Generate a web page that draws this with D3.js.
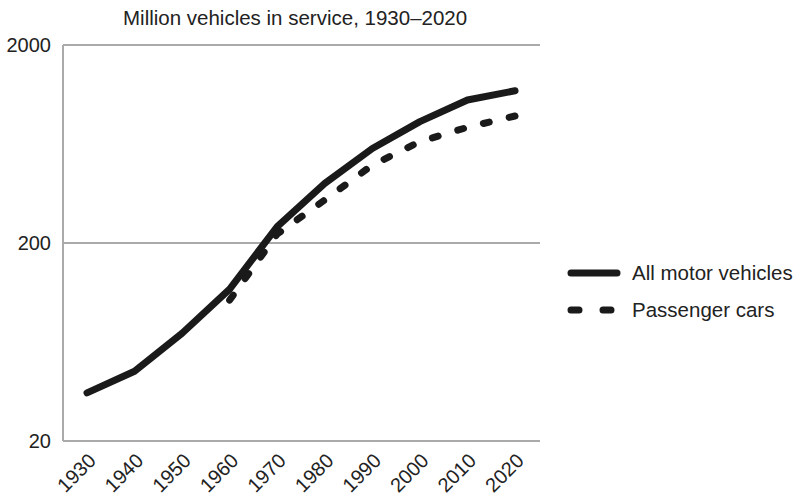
<!DOCTYPE html>
<html>
<head>
<meta charset="utf-8">
<script src="https://cdn.jsdelivr.net/npm/d3@7"></script>
<style>
  body { margin: 0; background: #fff; }
  svg { font-family: "Liberation Sans", Arial, sans-serif; }
</style>
</head>
<body>
<svg id="chart" width="803" height="496"></svg>
<script>
// Million vehicles in service, by decade
const years = [1930, 1940, 1950, 1960, 1970, 1980, 1990, 2000, 2010, 2020];
const allVehicles = [35, 45, 70, 117, 242, 400, 600, 820, 1055, 1175];
const carYears = [1960, 1970, 1980, 1990, 2000, 2010, 2020];
const passengerCars = [103, 222, 330, 495, 650, 768, 876];
const yTicks = [20, 200, 2000];
const title = "Million vehicles in service, 1930–2020";
const legendLabels = ["All motor vehicles", "Passenger cars"];

const svg = d3.select("#chart");
const plotLeft = 63, plotRight = 540, plotTop = 45, plotBottom = 441;

const x = d3.scalePoint().domain(years).range([87, 515]);
const y = d3.scaleLog().domain([20, 2000]).range([plotBottom, plotTop]);

// title
svg.append("text")
  .attr("x", 123).attr("y", 25)
  .attr("font-size", 20.5).attr("fill", "#222")
  .text(title);

// horizontal gridlines at 200 and 2000
svg.append("g").selectAll("line")
  .data(yTicks.slice(1))
  .join("line")
  .attr("x1", plotLeft).attr("x2", plotRight)
  .attr("y1", d => y(d)).attr("y2", d => y(d))
  .attr("stroke", "#aaa").attr("stroke-width", 2);

// left and bottom axis lines
svg.append("line")
  .attr("x1", plotLeft).attr("x2", plotLeft).attr("y1", plotTop).attr("y2", plotBottom)
  .attr("stroke", "#aaa").attr("stroke-width", 2);
svg.append("line")
  .attr("x1", plotLeft).attr("x2", plotRight).attr("y1", plotBottom).attr("y2", plotBottom)
  .attr("stroke", "#aaa").attr("stroke-width", 2);

// y tick labels
svg.append("g").selectAll("text")
  .data(yTicks)
  .join("text")
  .attr("x", 51).attr("y", d => y(d))
  .attr("dy", "0.35em")
  .attr("text-anchor", "end")
  .attr("font-size", 20).attr("fill", "#222")
  .text(d => d);

// x tick labels, rotated
svg.append("g").selectAll("text")
  .data(years)
  .join("text")
  .attr("transform", d => `translate(${x(d) + 10},${plotBottom + 21}) rotate(-45)`)
  .attr("text-anchor", "end")
  .attr("font-size", 20).attr("fill", "#222")
  .text(d => d);

const line = d3.line()
  .x(d => x(d[0]))
  .y(d => y(d[1]));

// all motor vehicles
svg.append("path")
  .datum(years.map((yr, i) => [yr, allVehicles[i]]))
  .attr("d", line)
  .attr("fill", "none")
  .attr("stroke", "#1a1a1a")
  .attr("stroke-width", 7)
  .attr("stroke-linecap", "round")
  .attr("stroke-linejoin", "round");

// passenger cars: dashes spaced so the run starts and ends on a dash
const carPath = svg.append("path")
  .datum(carYears.map((yr, i) => [yr, passengerCars[i]]))
  .attr("d", line)
  .attr("fill", "none")
  .attr("stroke", "#1a1a1a")
  .attr("stroke-width", 7)
  .attr("stroke-linecap", "round");
const dashLen = 6;
const totalLen = carPath.node().getTotalLength();
const nGaps = Math.round((totalLen - dashLen) / 27);
const period = (totalLen - dashLen) / nGaps;
carPath.attr("stroke-dasharray", `${dashLen},${period - dashLen}`);

// legend
const lg = svg.append("g");
lg.append("line")
  .attr("x1", 571).attr("x2", 617).attr("y1", 273).attr("y2", 273)
  .attr("stroke", "#1a1a1a").attr("stroke-width", 7).attr("stroke-linecap", "round");
lg.append("line")
  .attr("x1", 571).attr("x2", 617).attr("y1", 310).attr("y2", 310)
  .attr("stroke", "#1a1a1a").attr("stroke-width", 7).attr("stroke-linecap", "round")
  .attr("stroke-dasharray", "8,24");
lg.selectAll("text")
  .data(legendLabels)
  .join("text")
  .attr("x", 632).attr("y", (d, i) => 273 + i * 37)
  .attr("dy", "0.35em")
  .attr("font-size", 20.5).attr("fill", "#222")
  .text(d => d);
</script>
</body>
</html>
